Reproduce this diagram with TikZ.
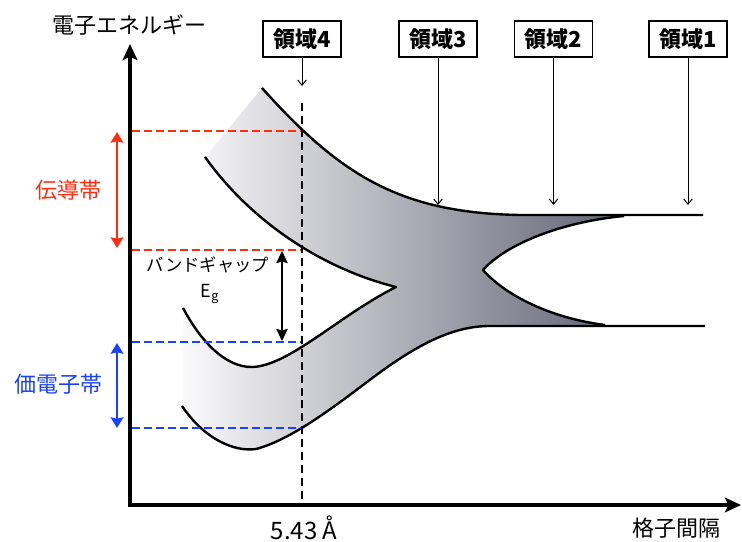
\documentclass[tikz,border=0pt]{standalone}
\usepackage{fontspec}
\setmainfont{Noto Sans CJK JP}
\usetikzlibrary{arrows.meta}
\definecolor{bandred}{RGB}{255,45,15}
\definecolor{bandblue}{RGB}{25,65,255}
\definecolor{shadeL}{RGB}{250,250,251}
\definecolor{shadeR}{RGB}{98,99,116}
\begin{document}
\begin{tikzpicture}[x=0.75pt,y=-0.75pt,
  curve/.style={line width=1.8pt, line join=round},
  regionbox/.style={draw, line width=0.9pt, fill=white, minimum width=58.5pt, minimum height=27pt, inner sep=0pt, font=\fontsize{16.5pt}{18pt}\selectfont\bfseries},
  regionarrow/.style={line width=0.75pt, -{Straight Barb[length=4pt,width=6.5pt]}},
  reddash/.style={bandred, line width=2pt, dash pattern=on 6pt off 3pt},
  bluedash/.style={bandblue, line width=2pt, dash pattern=on 6pt off 3pt},
  vdash/.style={line width=2.2pt, dash pattern=on 6pt off 3.7pt},
  axisline/.style={line width=3pt, line join=miter, {Stealth[length=12pt,width=11pt,inset=2.5pt]}-{Stealth[length=12pt,width=11pt,inset=2.5pt]}},
  redarrow/.style={bandred, line width=1.5pt, {Stealth[length=8pt,width=9.5pt,inset=1pt]}-{Stealth[length=8pt,width=9.5pt,inset=1pt]}},
  bluearrow/.style={bandblue, line width=1.5pt, {Stealth[length=8pt,width=9.5pt,inset=1pt]}-{Stealth[length=8pt,width=9.5pt,inset=1pt]}},
  gaparrow/.style={line width=1.6pt, {Stealth[length=9pt,width=8.5pt,inset=1pt]}-{Stealth[length=9pt,width=8.5pt,inset=1pt]}},
  lbl/.style={font=\fontsize{16.5pt}{18pt}\selectfont, inner sep=0pt},
]
\useasboundingbox (0,0) rectangle (742,542);

% shaded bands
\shade[left color=shadeL, right color=shadeR]
  (262,88) .. controls (340,175) and (400,213) .. (520,215) -- (624,216)
  .. controls (560,222) and (505,245) .. (483,270)
  .. controls (505,295) and (550,318) .. (605,325) -- (490,326)
  .. controls (455,326) and (420,342) .. (371,379)
  .. controls (330,410) and (290,440) .. (256,449)
  .. controls (235,452) and (205,440) .. (182,406) -- (183,308)
  .. controls (200,340) and (225,368) .. (253,367)
  .. controls (290,365) and (340,315) .. (396,287)
  .. controls (320,268) and (250,220) .. (205,157) -- cycle;

% band edges
\draw[curve] (262,88) .. controls (340,175) and (400,213) .. (520,215) -- (703,215);
\draw[curve] (205,157) .. controls (250,220) and (320,268) .. (396,287)
  .. controls (340,315) and (290,365) .. (253,367)
  .. controls (225,368) and (200,340) .. (183,308);
\draw[curve] (182,406) .. controls (205,440) and (235,452) .. (256,449)
  .. controls (290,440) and (330,410) .. (371,379)
  .. controls (420,342) and (455,326) .. (490,326) -- (705,326);
\draw[curve] (624,216) .. controls (560,222) and (505,245) .. (483,270)
  .. controls (505,295) and (550,318) .. (605,325);

% coordinates
\coordinate (O) at (130,505);
\coordinate (Ytop) at (130,44);
\coordinate (Xend) at (741,505);
\coordinate (r1a) at (132,131); \coordinate (r1b) at (302,131);
\coordinate (r2a) at (132,250); \coordinate (r2b) at (302,250);
\coordinate (b1a) at (132,342); \coordinate (b1b) at (302,342);
\coordinate (b2a) at (132,428); \coordinate (b2b) at (302,428);
\coordinate (vtop) at (302,103); \coordinate (vbot) at (302,500);

% dashed levels
\draw[reddash] (r1a) -- (r1b);
\draw[reddash] (r2a) -- (r2b);
\draw[bluedash] (b1a) -- (b1b);
\draw[bluedash] (b2a) -- (b2b);
\draw[vdash] (vtop) -- (vbot);

% axes
\draw[axisline] (Ytop) -- (O) -- (Xend);

% band arrows
\coordinate (ra) at (117,132); \coordinate (rb) at (117,248);
\coordinate (ba) at (117,343); \coordinate (bb) at (117,428);
\coordinate (ga) at (282,251); \coordinate (gb) at (282,341);
\draw[redarrow] (ra) -- (rb);
\draw[bluearrow] (ba) -- (bb);
\draw[gaparrow] (ga) -- (gb);

% region boxes
\node[regionbox] (reg4) at (302,39) {領域4};
\node[regionbox] (reg3) at (438,39) {領域3};
\node[regionbox] (reg2) at (553.5,39) {領域2};
\node[regionbox] (reg1) at (688,39) {領域1};
\coordinate (t4) at (302,86);
\coordinate (t3) at (438,205);
\coordinate (t2) at (553.5,205);
\coordinate (t1) at (688,205);
\draw[regionarrow] (reg4.south) -- (t4);
\draw[regionarrow] (reg3.south) -- (t3);
\draw[regionarrow] (reg2.south) -- (t2);
\draw[regionarrow] (reg1.south) -- (t1);

% labels
\node[lbl] (ylab) at (129,25) {電子エネルギー};
\node[lbl] (xlab) at (676,528) {格子間隔};
\node[font=\fontsize{18pt}{20pt}\selectfont, inner sep=0pt] (lat) at (304,528) {5.43 Å};
\node[lbl, text=bandred] (cb) at (68,190) {伝導帯};
\node[lbl, text=bandblue] (vb) at (58,384) {価電子帯};
\node[font=\fontsize{13pt}{15pt}\selectfont, inner sep=0pt] (gap) at (208,265) {バンドギャップ};
\node[font=\fontsize{13.5pt}{15pt}\selectfont, inner sep=0pt] (eg) at (210,294) {E\textsubscript{g}};
\end{tikzpicture}
\end{document}
